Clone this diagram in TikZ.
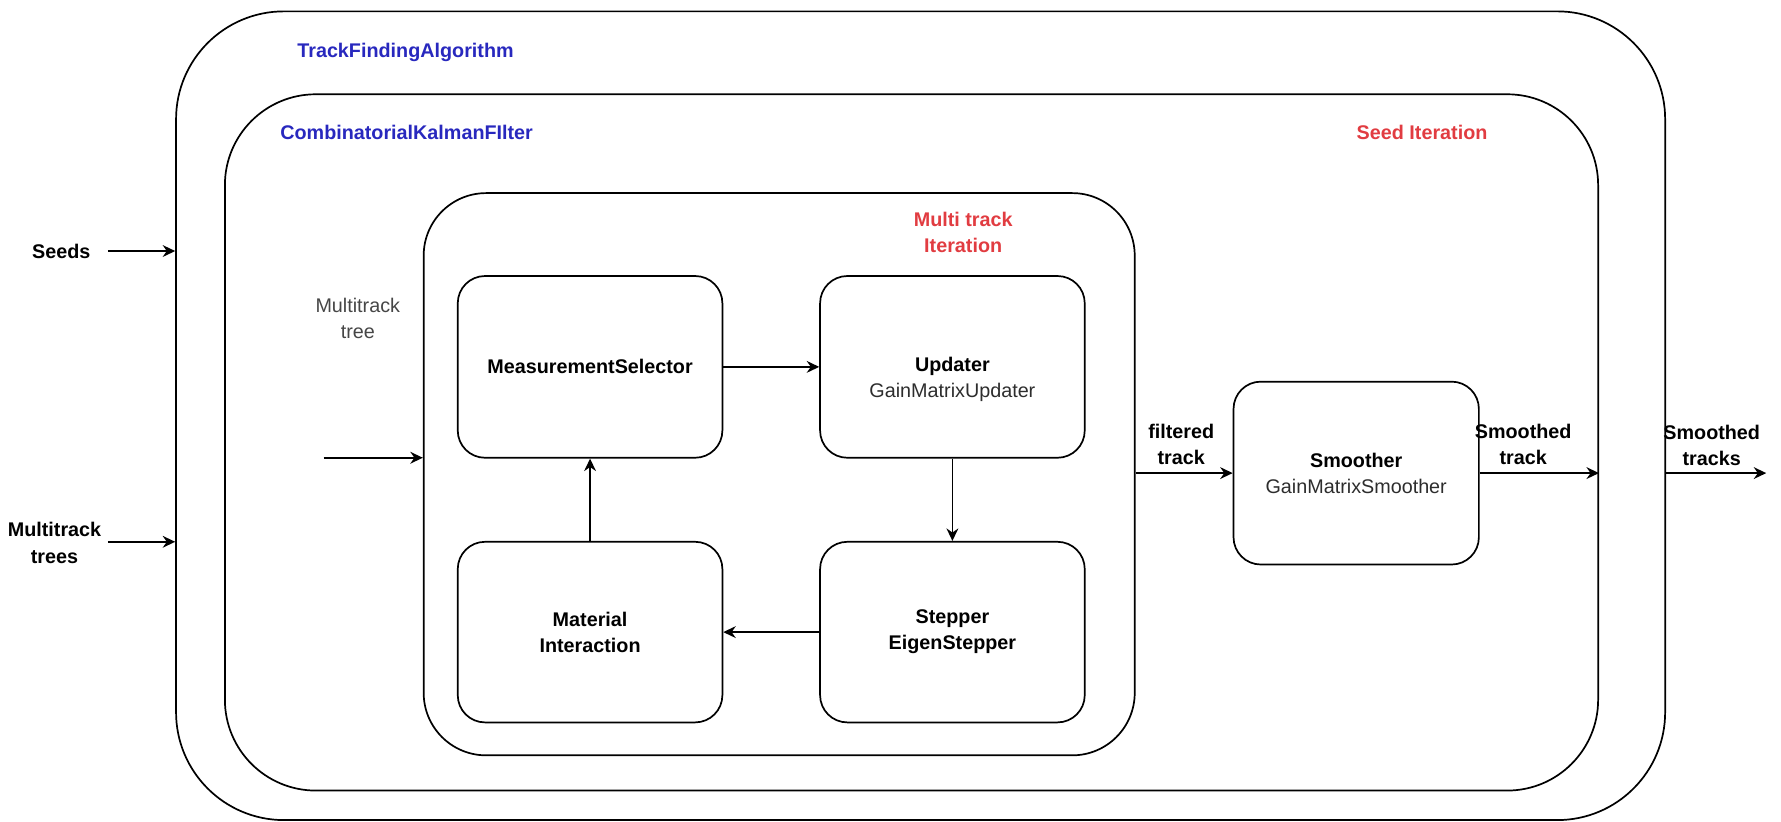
\documentclass[tikz,border=0pt]{standalone}
\usepackage{fontspec}
\setmainfont{Liberation Sans}
\usetikzlibrary{arrows.meta}
\definecolor{lblblue}{RGB}{40,40,190}
\definecolor{lblred}{RGB}{225,60,65}
\definecolor{lblgray}{RGB}{70,70,70}
\definecolor{subgray}{RGB}{45,45,45}
\newcommand\dfont{\fontsize{8.7}{11.5}\selectfont}
\begin{document}
\begin{tikzpicture}[x=0.5pt,y=-0.5pt,
  container/.style={draw, line width=0.75pt, rectangle, inner sep=0pt},
  blk/.style={draw, line width=0.75pt, rectangle, rounded corners=12pt,
    minimum width=116.5pt, minimum height=80pt, align=center, inner sep=0pt, font=\dfont},
  arr/.style={-{Stealth[length=5.5pt,width=5.2pt,inset=1.8pt]}, line width=0.75pt},
  lbl/.style={align=center, inner sep=0pt, font=\dfont\bfseries}]
\useasboundingbox (0,0) rectangle (1568,723);

% containers
\node[container, rounded corners=47.5pt, minimum width=655.5pt, minimum height=356pt] (outer) at (810.5,366) {};
\node[container, rounded corners=40pt, minimum width=604.5pt, minimum height=306.5pt] (ckf) at (802.5,389.5) {};
\node[container, rounded corners=27.5pt, minimum width=313pt, minimum height=247.5pt] (mti) at (686,417.5) {};

% container titles
\node[lbl, text=lblblue] (tfa) at (357,46) {TrackFindingAlgorithm};
\node[lbl, text=lblblue] (ckft) at (358,117) {CombinatorialKalmanFIlter};
\node[lbl, text=lblred] (seedit) at (1252,117) {Seed Iteration};
\node[lbl, text=lblred] (mtit) at (848,205) {Multi track\\Iteration};

% blocks
\node[blk] (ms) at (519.5,323) {\textbf{MeasurementSelector}};
\node[blk, label={[align=center, inner sep=0pt, font=\dfont, yshift=-5.5pt]center:{\textbf{Updater}\\\textcolor{subgray}{GainMatrixUpdater}}}] (upd) at (838.5,323) {};
\node[blk, minimum height=79.5pt] (mat) at (519.5,556.5) {\textbf{Material}\\\textbf{Interaction}};
\node[blk, minimum height=79.5pt] (stp) at (838.5,556.5) {\textbf{Stepper}\\\textbf{EigenStepper}};
\node[blk, minimum width=108pt, minimum height=80.5pt] (smoother) at (1194,416.5) {\textbf{Smoother}\\\textcolor{subgray}{GainMatrixSmoother}};

% inner loop
\draw[arr] (ms) -- (upd);
\draw[arr] (upd) -- (stp);
\draw[arr] (stp) -- (mat);
\draw[arr] (mat) -- (ms);

% inputs
\node[lbl] (seeds) at (54,221) {Seeds};
\coordinate (seedsS) at (95,221);
\draw[arr] (seedsS) -- (outer.west |- seedsS);

\node[lbl] (mtrees) at (48,478) {Multitrack\\trees};
\coordinate (mtreesS) at (95,477);
\draw[arr] (mtreesS) -- (outer.west |- mtreesS);

\node[lbl, font=\dfont, text=lblgray] (mtree) at (315,280) {Multitrack\\tree};
\coordinate (mtreeS) at (285,403);
\draw[arr] (mtreeS) -- (mti.west |- mtreeS);

% outputs
\node[lbl] (filt) at (1040,391) {filtered\\track};
\draw[arr] (mti.east |- smoother) -- (smoother.west);
\node[lbl] (smtrack) at (1341,391) {Smoothed\\track};
\draw[arr] (smoother.east) -- (ckf.east |- smoother);
\node[lbl] (smtracks) at (1507,392) {Smoothed\\tracks};
\coordinate (outEnd) at (1555,416.5);
\draw[arr] (outer.east |- smoother) -- (outEnd);
\end{tikzpicture}
\end{document}
